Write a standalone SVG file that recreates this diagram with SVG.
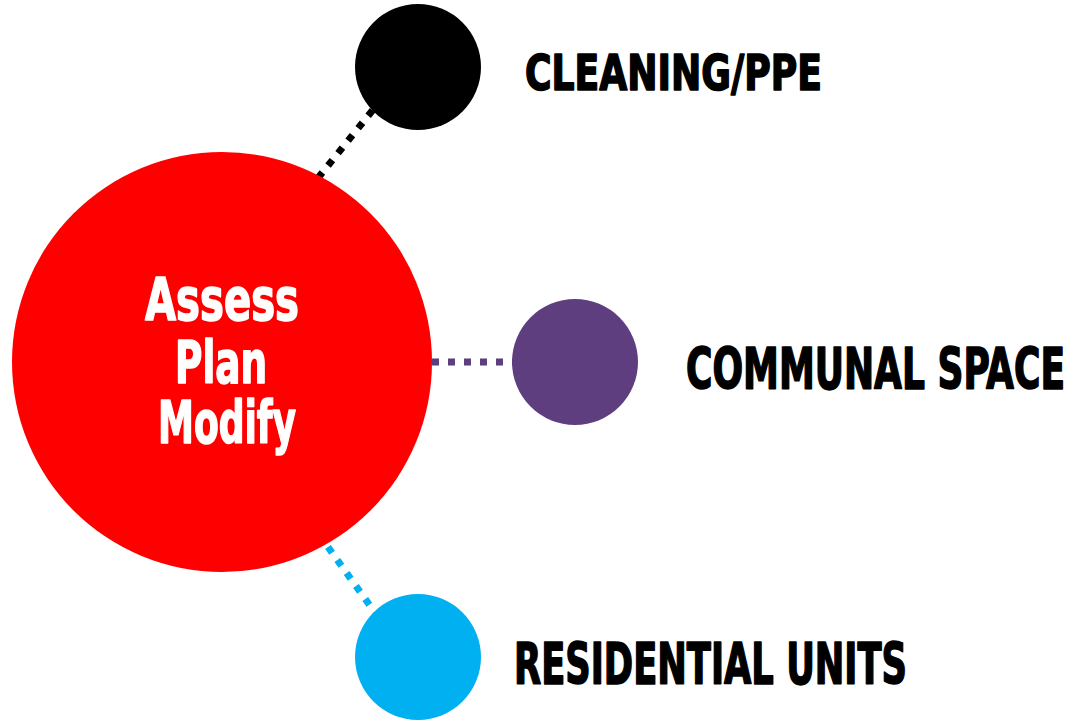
<svg xmlns="http://www.w3.org/2000/svg" width="1081" height="722" viewBox="0 0 1081 722">
  <style>
    .link { fill: none; stroke-width: 7; stroke-dasharray: 7 9; stroke-linecap: butt; }
    .label { font-family: "DejaVu Sans Condensed", "DejaVu Sans", "Liberation Sans", sans-serif; font-weight: bold; font-stretch: condensed; fill: #000; stroke: #000; stroke-width: 1.6; stroke-linejoin: round; }
    .hub-text { font-family: "DejaVu Sans Condensed", "DejaVu Sans", "Liberation Sans", sans-serif; font-weight: bold; font-stretch: condensed; fill: #fff; stroke: #fff; stroke-width: 1.6; stroke-linejoin: round; font-size: 59px; }
  </style>
  <rect width="1081" height="722" fill="#fff"/>

  <!-- dotted connectors, drawn beneath the circles -->
  <g id="connectors">
    <line class="link" x1="318" y1="178" x2="380" y2="101" stroke="#000"/>
    <line class="link" x1="432" y1="362" x2="515" y2="362" stroke="#5E3E7F"/>
    <line class="link" x1="328" y1="547" x2="376" y2="614" stroke="#00B0F0"/>
  </g>

  <g id="hub">
    <circle cx="222" cy="362" r="210" fill="#FF0000"/>
    <text class="hub-text" x="145" y="320" textLength="154" lengthAdjust="spacingAndGlyphs">Assess</text>
    <text class="hub-text" x="175" y="383" textLength="92" lengthAdjust="spacingAndGlyphs">Plan</text>
    <text class="hub-text" x="158" y="443" textLength="138" lengthAdjust="spacingAndGlyphs">Modify</text>
  </g>

  <g id="cleaning">
    <circle cx="418" cy="67" r="63" fill="#000"/>
    <text class="label" x="525" y="90" font-size="49" textLength="297" lengthAdjust="spacingAndGlyphs">CLEANING/PPE</text>
  </g>

  <g id="communal">
    <circle cx="575" cy="362" r="63" fill="#5E3E7F"/>
    <text class="label" x="686" y="389" font-size="57" textLength="379" lengthAdjust="spacingAndGlyphs">COMMUNAL SPACE</text>
  </g>

  <g id="residential">
    <circle cx="418" cy="657" r="63" fill="#00B0F0"/>
    <text class="label" x="514" y="684" font-size="57" textLength="393" lengthAdjust="spacingAndGlyphs">RESIDENTIAL UNITS</text>
  </g>
</svg>
